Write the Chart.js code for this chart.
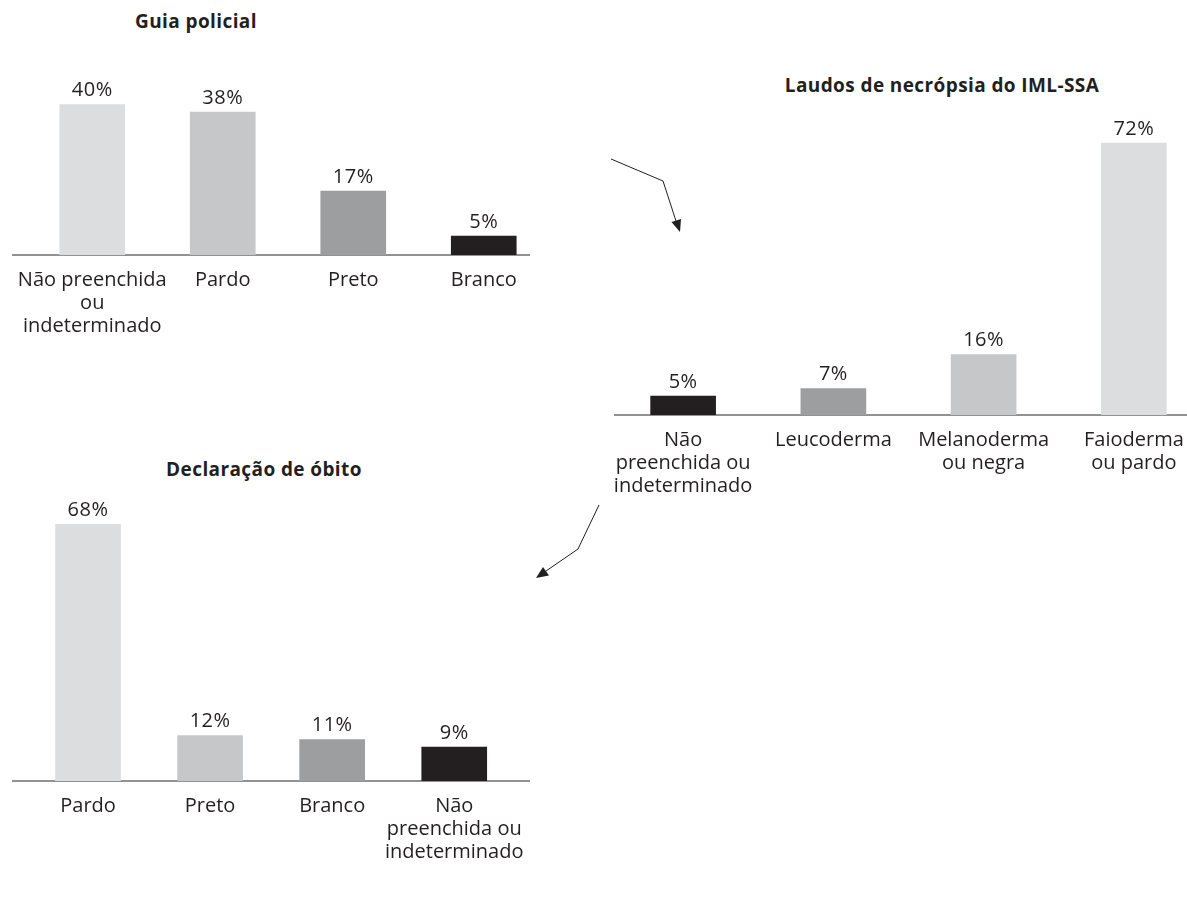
<!DOCTYPE html>
<html lang="pt">
<head>
<meta charset="utf-8">
<title>Cor da vítima segundo a fonte</title>
<script src="https://cdn.jsdelivr.net/npm/chart.js@4.4.1/dist/chart.umd.min.js"></script>
<style>
  html, body { margin: 0; padding: 0; background: #fff; }
  body { width: 1187px; height: 906px; position: relative; overflow: hidden; font-family: "Open Sans", sans-serif; color: #231f20; }
  canvas { position: absolute; }
  .title { position: absolute; font-weight: 700; font-size: 19px; letter-spacing: 0.4px; transform: translate(-50%, -50%); white-space: nowrap; }
  svg { position: absolute; left: 0; top: 0; }
</style>
</head>
<body>
<div class="title" style="left:196px;top:21px">Guia policial</div>
<div class="title" style="left:942px;top:85px">Laudos de necrópsia do IML-SSA</div>
<div class="title" style="left:264px;top:469px">Declaração de óbito</div>

<canvas id="guia" width="560" height="315" style="left:0;top:40px"></canvas>
<canvas id="laudo" width="630" height="415" style="left:590px;top:100px"></canvas>
<canvas id="obito" width="540" height="411" style="left:0;top:470px"></canvas>

<!-- connecting arrows -->
<svg width="1187" height="906">
  <polyline points="611,159 663,181 676,221" fill="none" stroke="#231f20" stroke-width="1"/>
  <polygon points="680,232 671.5,222 681,219" fill="#231f20"/>
  <polyline points="599,505 578,549 546,571" fill="none" stroke="#231f20" stroke-width="1"/>
  <polygon points="536,578 543,567 549,575.5" fill="#231f20"/>
</svg>

<script>
// Data
const guiaLabels = [['Não preenchida', 'ou', 'indeterminado'], 'Pardo', 'Preto', 'Branco'];
const guiaValues = [40, 38, 17, 5];

const laudoLabels = [['Não', 'preenchida ou', 'indeterminado'], 'Leucoderma', ['Melanoderma', 'ou negra'], ['Faioderma', 'ou pardo']];
const laudoValues = [5, 7, 16, 72];

const obitoLabels = ['Pardo', 'Preto', 'Branco', ['Não', 'preenchida ou', 'indeterminado']];
const obitoValues = [68, 12, 11, 9];

// Greys
const LIGHT = '#dcdddf';
const MID_LIGHT = '#c6c7c9';
const MID = '#9d9ea0';
const DARK = '#231f20';
const TEXT = '#231f20';
const FONT = '"Open Sans", sans-serif';

// Baseline drawn under the bars
const baselinePlugin = {
  id: 'baseline',
  beforeDatasetsDraw(chart, args, opts) {
    const ctx = chart.ctx;
    const y = chart.scales.y.getPixelForValue(0);
    ctx.save();
    ctx.strokeStyle = opts.color || '#6d6e70';
    ctx.lineWidth = opts.width || 1.5;
    ctx.beginPath();
    ctx.moveTo(opts.from, y);
    ctx.lineTo(opts.to, y);
    ctx.stroke();
    ctx.restore();
  }
};

// Percent labels above each bar
const valueLabelPlugin = {
  id: 'valueLabels',
  afterDatasetsDraw(chart) {
    const ctx = chart.ctx;
    const ds = chart.data.datasets[0];
    ctx.save();
    ctx.font = '20px ' + FONT;
    ctx.letterSpacing = '0.5px';
    ctx.fillStyle = TEXT;
    ctx.textAlign = 'center';
    ctx.textBaseline = 'bottom';
    chart.getDatasetMeta(0).data.forEach((bar, i) => {
      ctx.fillText(ds.data[i] + '%', bar.x, bar.y - 4);
    });
    ctx.restore();
  }
};

function makeChart(id, labels, values, colors, yMax, padding, line) {
  return new Chart(document.getElementById(id), {
    type: 'bar',
    data: {
      labels: labels,
      datasets: [{
        data: values,
        backgroundColor: colors,
        borderWidth: 0,
        barThickness: 65
      }]
    },
    options: {
      responsive: false,
      animation: false,
      devicePixelRatio: 1,
      layout: { padding: padding },
      scales: {
        x: {
          offset: true,
          grid: { display: false, drawTicks: false },
          border: { display: false },
          ticks: {
            autoSkip: false,
            maxRotation: 0,
            minRotation: 0,
            padding: 14,
            color: TEXT,
            font: { family: FONT, size: 20, lineHeight: 1.15 }
          },
          afterFit(scale) { scale.height = 100; }
        },
        y: { display: false, min: 0, max: yMax }
      },
      plugins: {
        legend: { display: false },
        tooltip: { enabled: false },
        baseline: line
      }
    },
    plugins: [baselinePlugin, valueLabelPlugin]
  });
}

makeChart('guia', guiaLabels, guiaValues, [LIGHT, MID_LIGHT, MID, DARK], 50,
  { left: 27, right: 11, top: 27, bottom: 0 }, { from: 12, to: 530 });

makeChart('laudo', laudoLabels, laudoValues, [DARK, MID, MID_LIGHT, LIGHT], 80,
  { left: 18, right: 11, top: 13, bottom: 0 }, { from: 24, to: 630 });

makeChart('obito', obitoLabels, obitoValues, [LIGHT, MID_LIGHT, MID, DARK], 80,
  { left: 27, right: 20, top: 9, bottom: 0 }, { from: 12, to: 530 });
</script>
</body>
</html>
